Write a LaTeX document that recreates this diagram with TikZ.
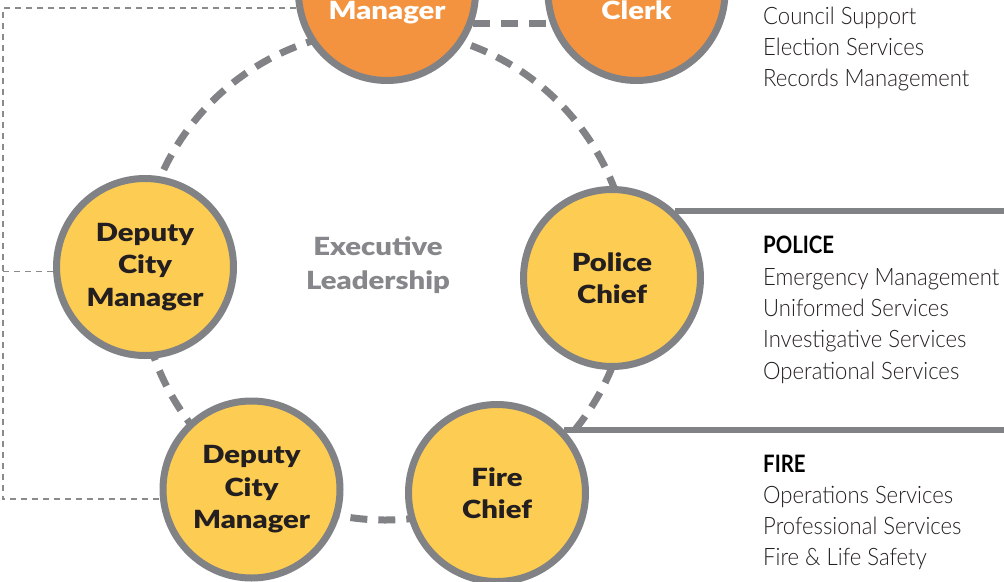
\documentclass[tikz,border=0pt]{standalone}
\usepackage{fontspec}
\setmainfont{Lato}
\newfontfamily\heavyf{Lato Black}[FakeStretch=1.17]
\newfontfamily\lightf{Lato Light}[FakeStretch=0.92]
\newfontfamily\headf{Lato Bold}[FakeStretch=0.85]
\definecolor{linegray}{HTML}{808285}
\definecolor{dotgray}{HTML}{8A8B8D}
\definecolor{orangefill}{HTML}{F4933F}
\definecolor{yellowfill}{HTML}{FDCC52}
\definecolor{darktext}{HTML}{231F20}
\definecolor{exectext}{HTML}{85878A}
\tikzset{
  person/.style={circle, draw=linegray, line width=7pt, minimum size=177pt, inner sep=0pt,
    align=center, text=darktext, font=\heavyf\fontsize{25}{32.5}\selectfont},
  topperson/.style={person, fill=orangefill},
  mainperson/.style={person, fill=yellowfill},
  ringline/.style={draw=linegray, line width=7pt, dash pattern=on 17pt off 11pt},
  linkline/.style={draw=dotgray, line width=1.3pt, dash pattern=on 6pt off 5pt},
  hline/.style={draw=linegray, line width=6pt},
  svc/.style={anchor=base west, inner sep=0pt, text=darktext, font=\lightf\fontsize{24}{31}\selectfont},
  svchead/.style={anchor=base west, inner sep=0pt, text=black, font=\headf\fontsize{24}{31}\selectfont},
  toptext/.style={anchor=base, inner sep=0pt, text=white, font=\heavyf\fontsize{25}{32}\selectfont},
  exec/.style={align=center, text=exectext, font=\heavyf\fontsize{25}{33.5}\selectfont},
}
\begin{document}
\begin{tikzpicture}[x=1pt, y=-1pt]
\useasboundingbox (0,0) rectangle (1004,581);
\clip (0,0) rectangle (1004,581);
% ring behind nodes
\coordinate (ringc) at (385,275);
\draw[ringline] (ringc) circle[radius=245pt];
% coordinates for edges
\coordinate (L) at (3,0);
\coordinate (E) at (1004,0);
% people
\node[topperson] (cm) at (387,-8) {};
\node[topperson] (clerk) at (636.5,-8) {};
\node[mainperson] (dep1) at (145,267) {Deputy\\City\\Manager};
\node[mainperson] (police) at (612,278) {Police\\Chief};
\node[mainperson] (dep2) at (251.5,489.5) {Deputy\\City\\Manager};
\node[mainperson] (fire) at (497,493) {Fire\\Chief};
\node[toptext] (cmtext) at (387,19.5) {Manager};
\node[toptext] (clerktext) at (636.5,19.5) {Clerk};
\node[exec] (execlabel) at (378,265) {Executive\\Leadership};
% cm - clerk link
\draw[ringline] (cm.-20) -- (clerk.200);
% thin dashed reporting lines
\draw[linkline] (cm.190) -| (L |- dep2.186) -- (dep2.186);
\draw[linkline] (L |- dep1.183) -- (dep1.183);
% horizontal rules
\draw[hline] (police.47.7) -- (police.47.7 -| E);
\draw[hline] (fire.43.6) -- (fire.43.6 -| E);
% service text
\node[svc] (c1) at (763,24) {Council Support};
\node[svc] (c2) at (763,55) {Election Services};
\node[svc] (c3) at (763,86) {Records Management};
\node[svchead] (ph) at (763,253) {POLICE};
\node[svc] (p1) at (763,285) {Emergency Management};
\node[svc] (p2) at (763,316) {Uniformed Services};
\node[svc] (p3) at (763,347.5) {Investigative Services};
\node[svc] (p4) at (763,379) {Operational Services};
\node[svchead] (fh) at (763,472) {FIRE};
\node[svc] (f1) at (763,503) {Operations Services};
\node[svc] (f2) at (763,534) {Professional Services};
\node[svc] (f3) at (763,565) {Fire \& Life Safety};
\end{tikzpicture}
\end{document}
